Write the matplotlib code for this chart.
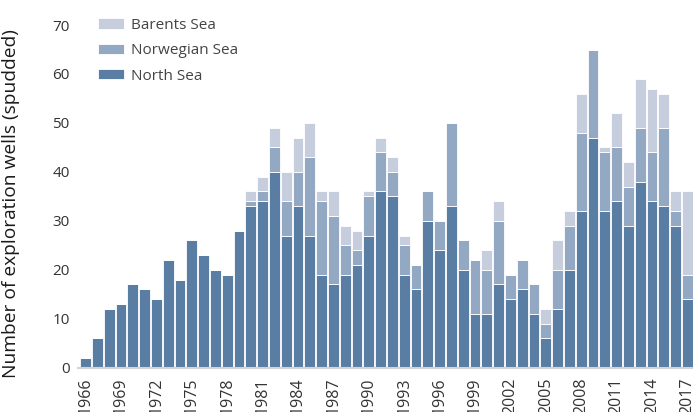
import matplotlib.pyplot as plt
import numpy as np

years = list(range(1966, 2018))

# cumulative tops: North Sea, +Norwegian Sea, +Barents Sea
north = [2, 6, 12, 13, 17, 16, 14, 22, 18, 26, 23, 20, 19, 28, 33, 34, 40,
         27, 33, 27, 19, 17, 19, 21, 27, 36, 35, 19, 16, 30, 24, 33, 20, 11, 11,
         17, 14, 16, 11, 6, 12, 20, 32, 47, 32, 34, 29, 38, 34, 33, 29, 14]
norw_top = [2, 6, 12, 13, 17, 16, 14, 22, 18, 26, 23, 20, 19, 28, 34, 36, 45,
            34, 40, 43, 34, 31, 25, 24, 35, 44, 40, 25, 21, 36, 30, 50, 26, 22, 20,
            30, 19, 22, 17, 9, 20, 29, 48, 65, 44, 45, 37, 49, 44, 49, 32, 19]
barents_top = [2, 6, 12, 13, 17, 16, 14, 22, 18, 26, 23, 20, 19, 28, 36, 39, 49,
               40, 47, 50, 36, 36, 29, 28, 36, 47, 43, 27, 21, 36, 30, 50, 26, 22, 24,
               34, 19, 22, 17, 12, 26, 32, 56, 65, 45, 52, 42, 59, 57, 56, 36, 36]

north = np.array(north)
norwegian = np.array(norw_top) - north
barents = np.array(barents_top) - np.array(norw_top)

c_north = '#5a7ea3'
c_norw = '#93a8c2'
c_bar = '#c6cedd'

fig = plt.figure(figsize=(6.93, 4.12), dpi=100)
ax = fig.add_axes([0.1126, 0.1075, 0.8874, 0.8555])

x = np.arange(len(years))
w = 0.92
ax.bar(x, north, w, color=c_north, edgecolor='white', linewidth=0.6, label='North Sea')
ax.bar(x, norwegian, w, bottom=north, color=c_norw, edgecolor='white', linewidth=0.6,
       label='Norwegian Sea')
ax.bar(x, barents, w, bottom=north + norwegian, color=c_bar, edgecolor='white',
       linewidth=0.6, label='Barents Sea')

ax.set_xlim(-0.64, 51.47)
ax.set_ylim(0, 72)
ax.set_yticks(range(0, 80, 10))
ax.set_xticks(x[::3])
ax.set_xticklabels([str(y) for y in years[::3]], rotation=90, fontsize=11.5,
                   color='#333333', family='Open Sans')
ax.tick_params(axis='x', length=0, pad=7)
ax.tick_params(axis='y', length=0, pad=6, labelsize=11, labelcolor='#333333')
for lab in ax.get_yticklabels():
    lab.set_family('Open Sans')

for s in ['top', 'right', 'left']:
    ax.spines[s].set_visible(False)
ax.spines['bottom'].set_color('#d4d4d4')
ax.spines['bottom'].set_linewidth(1.5)

ax.set_ylabel('Number of exploration wells (spudded)', fontsize=13.8,
              family='Open Sans', color='#1a1a1a')
ax.yaxis.set_label_coords(-0.094, 0.465)

handles, labels = ax.get_legend_handles_labels()
leg = ax.legend(handles[::-1], labels[::-1], loc='upper left',
                bbox_to_anchor=(0.121, 0.99), bbox_transform=fig.transFigure,
                frameon=False, handlelength=1.7, handleheight=0.65,
                labelspacing=0.68, handletextpad=0.5,
                prop={'family': 'Open Sans', 'size': 11})
for t in leg.get_texts():
    t.set_color('#444444')

fig.savefig('out.png', dpi=100)
